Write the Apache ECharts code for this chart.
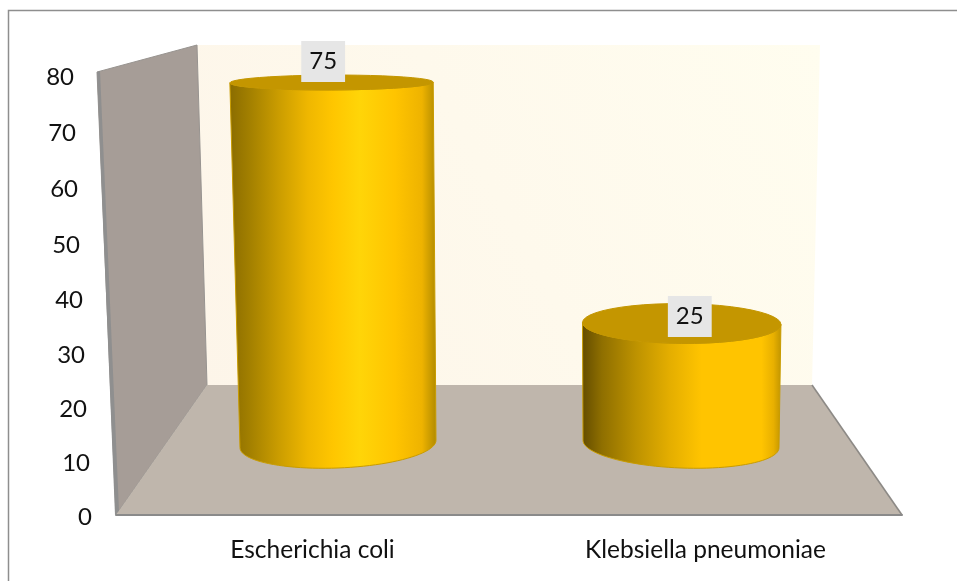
<!DOCTYPE html>
<html>
<head>
<meta charset="utf-8">
<style>html,body{margin:0;padding:0;background:#fff}#chart{width:957px;height:581px}</style>
<script src="https://cdn.jsdelivr.net/npm/echarts@6/dist/echarts.min.js"></script>
</head>
<body>
<div id="chart"></div>
<script>
const categories = ['Escherichia coli', 'Klebsiella pneumoniae'];
const percentages = [75, 25];
const valueTicks = [0, 10, 20, 30, 40, 50, 60, 70, 80];

const FONT = 'Lato, "Open Sans", sans-serif';
const TEXT = '#111111';

// Shading of each cylinder's curved side, left to right.
const sideShades = [
  [[0, '#8a6c00'], [0.1, '#a38000'], [0.24, '#cb9d00'], [0.38, '#efb700'], [0.5, '#ffc600'], [0.63, '#ffd508'], [0.8, '#ffc400'], [0.93, '#eeb300'], [1, '#b08a00']],
  [[0, '#634c00'], [0.1, '#8f6f00'], [0.27, '#bd9200'], [0.44, '#e4ae00'], [0.6, '#ffc400'], [0.9, '#ffc400'], [0.96, '#e8b000'], [1, '#c09400']]
];

// Perspective of the 3D scene: lines converge toward the horizontal centre.
const VANISH_X = 510;
const GROW = 1.04e-4;

function ellipsePoints(cx, cy, rx, ry, slope, from, to) {
  const pts = [];
  const steps = 48;
  for (let i = 0; i <= steps; i++) {
    const t = from + (to - from) * i / steps;
    const ex = rx * Math.cos(t);
    pts.push([cx + ex, cy + ry * Math.sin(t) + slope * ex]);
  }
  return pts;
}

function renderCylinder(params, api) {
  const i = api.value(0);
  const v = api.value(1);
  const base = api.coord([i, 0]);
  const top = api.coord([i, v]);
  const h = base[1] - top[1];
  const rx0 = api.size([1, 0])[0] * 0.2857;
  const rx1 = rx0 * (1 + GROW * h);
  const lean = (base[0] - VANISH_X) * GROW * h * (h / 362);
  const topX = base[0] + lean;
  const ryAt = d => 24 - 0.0282 * d - 4.86e-5 * d * d;
  const tilt = (base[0] - VANISH_X) / 172 * 0.038;
  const topTilt = tilt / (1 + h / 40);
  const baseArc = ellipsePoints(base[0], base[1], rx0, ryAt(0), tilt, 0, Math.PI);
  const topLid = ellipsePoints(topX, top[1], rx1, ryAt(h), topTilt, 0, Math.PI * 2);
  const topFront = ellipsePoints(topX, top[1], rx1, ryAt(h), topTilt, Math.PI, 0);
  return {
    type: 'group',
    children: [
      {
        type: 'polygon',
        shape: { points: baseArc.concat(topFront) },
        style: {
          fill: new echarts.graphic.LinearGradient(0, 0, 1, 0,
            sideShades[i].map(s => ({ offset: s[0], color: s[1] }))),
          stroke: '#c99c00',
          lineWidth: 1
        }
      },
      {
        type: 'polygon',
        shape: { points: topLid },
        style: { fill: '#c49600', stroke: '#c49600', lineWidth: 1 }
      },
      {
        type: 'text',
        z2: 10,
        style: {
          x: topX + (topX - VANISH_X) * 0.047,
          y: top[1] - 0.17 - 0.0576 * h,
          text: String(v),
          fill: TEXT,
          font: '24px ' + FONT,
          align: 'center',
          verticalAlign: 'middle',
          backgroundColor: '#e6e6e6',
          padding: [8, 8, 9, 8]
        }
      }
    ]
  };
}

// Tick labels run along the sloping front edge of the side wall.
const tickRich = {};
valueTicks.forEach(v => {
  const shiftY = 2 + v * (80 - v) / 1600 * 3;
  tickRich['t' + v] = {
    fontFamily: FONT,
    fontSize: 24,
    color: TEXT,
    padding: [Math.round(shiftY * 2), Math.round(v * 0.23), 0, 0]
  };
});

const room = [
  // back wall
  {
    type: 'polygon', z: -3,
    shape: { points: [[197, 45], [820, 45], [812, 385], [207, 385]] },
    style: {
      fill: new echarts.graphic.LinearGradient(0, 1, 1, 0, [
        { offset: 0, color: '#fdf5e9' }, { offset: 1, color: '#fffdef' }
      ])
    }
  },
  // side wall with its darker outer edge
  {
    type: 'polygon', z: -2,
    shape: { points: [[97, 72], [197, 45], [207, 385], [116, 515]] },
    style: { fill: '#a69d97', stroke: '#989490', lineWidth: 1 }
  },
  {
    type: 'polygon', z: -2,
    shape: { points: [[97, 72], [100, 71], [119, 511], [115, 515]] },
    style: { fill: '#8f8f8f' }
  },
  // floor
  {
    type: 'polygon', z: -2,
    shape: { points: [[207, 385], [812, 385], [902, 515], [116, 515]] },
    style: { fill: '#bfb6ac' }
  },
  {
    type: 'polyline', z: -1,
    shape: { points: [[812, 385], [902, 515]] },
    style: { stroke: '#8d8a86', lineWidth: 1.6, fill: null }
  },
  // chart frame
  {
    type: 'polyline', z: -1,
    shape: { points: [[8.5, 581], [8.5, 10.5], [957, 10.5]] },
    style: { stroke: '#8e8e8e', lineWidth: 1.5, fill: null }
  }
];

const chart = echarts.init(document.getElementById('chart'), null, { renderer: 'canvas' });
chart.setOption({
  animation: false,
  backgroundColor: '#ffffff',
  graphic: { elements: room },
  grid: [
    { left: 116, right: 55, top: 75, bottom: 66 },
    { left: 166.5, right: 104.5, top: 58.4, bottom: 137 }
  ],
  xAxis: [
    {
      gridIndex: 0,
      type: 'category',
      data: categories,
      axisTick: { show: false },
      axisLine: { show: true, lineStyle: { color: '#8a8a8a', width: 2 } },
      axisLabel: { fontFamily: FONT, fontSize: 24.5, color: TEXT, margin: 23 }
    },
    { gridIndex: 1, type: 'category', data: categories, show: false }
  ],
  yAxis: [
    {
      gridIndex: 0,
      type: 'value',
      min: 0,
      max: 80,
      interval: 10,
      axisLine: { show: false },
      axisTick: { show: false },
      splitLine: { show: false },
      axisLabel: {
        margin: 24,
        align: 'right',
        formatter: v => '{t' + v + '|' + v + '}',
        rich: tickRich
      }
    },
    { gridIndex: 1, type: 'value', min: 0, max: 80, show: false, splitLine: { show: false } }
  ],
  series: [
    {
      type: 'custom',
      xAxisIndex: 1,
      yAxisIndex: 1,
      renderItem: renderCylinder,
      encode: { x: 0, y: 1 },
      data: categories.map((c, i) => [i, percentages[i]]),
      clip: false,
      silent: true
    }
  ]
});
</script>
</body>
</html>
